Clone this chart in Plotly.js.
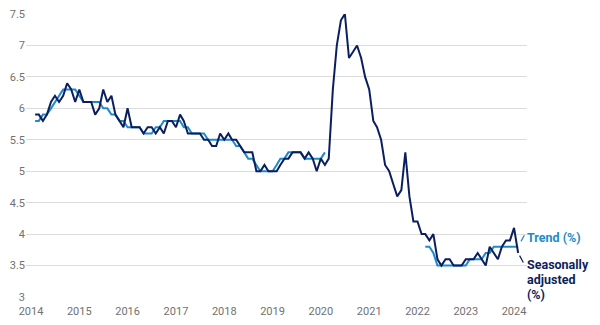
<!DOCTYPE html>
<html>
<head>
<meta charset="utf-8">
<script src="https://cdn.plot.ly/plotly-3.0.1.min.js"></script>
<style>html,body{margin:0;padding:0;background:#fff;}#chart{width:600px;height:325px;}</style>
</head>
<body>
<div id="chart"></div>
<script>
// First observation: February 2014, monthly
const startYear = 2014;
const startMonth = 2;

// Seasonally adjusted unemployment rate (%)
const seasonallyAdjusted = [
  5.9, 5.9, 5.8, 5.9, 6.1, 6.2, 6.1, 6.2, 6.4, 6.3, 6.1,            // Feb-Dec 2014
  6.3, 6.1, 6.1, 6.1, 5.9, 6.0, 6.3, 6.1, 6.2, 5.9, 5.8, 5.7,       // 2015
  6.0, 5.7, 5.7, 5.7, 5.6, 5.7, 5.7, 5.6, 5.7, 5.6, 5.8, 5.8,       // 2016
  5.7, 5.9, 5.8, 5.6, 5.6, 5.6, 5.6, 5.5, 5.5, 5.4, 5.4, 5.6,       // 2017
  5.5, 5.6, 5.5, 5.5, 5.4, 5.3, 5.3, 5.3, 5.0, 5.0, 5.1, 5.0,       // 2018
  5.0, 5.0, 5.1, 5.2, 5.2, 5.3, 5.3, 5.3, 5.2, 5.3, 5.2, 5.0,       // 2019
  5.2, 5.1, 5.2, 6.3, 7.0, 7.4, 7.5, 6.8, 6.9, 7.0, 6.8, 6.5,       // 2020
  6.3, 5.8, 5.7, 5.5, 5.1, 5.0, 4.8, 4.6, 4.7, 5.3, 4.6, 4.2,       // 2021
  4.2, 4.0, 4.0, 3.9, 4.0, 3.6, 3.5, 3.6, 3.6, 3.5, 3.5, 3.5,       // 2022
  3.6, 3.6, 3.6, 3.7, 3.6, 3.5, 3.8, 3.7, 3.6, 3.8, 3.9, 3.9,       // 2023
  4.1, 3.7                                                          // 2024
];

// Trend unemployment rate (%); trend estimates suspended Apr 2020 - Mar 2022
const trend = [
  5.8, 5.8, 5.9, 5.9, 6.0, 6.1, 6.2, 6.3, 6.3, 6.3, 6.3,            // Feb-Dec 2014
  6.2, 6.1, 6.1, 6.1, 6.1, 6.1, 6.0, 6.0, 5.9, 5.9, 5.8, 5.8,       // 2015
  5.7, 5.7, 5.7, 5.7, 5.6, 5.6, 5.6, 5.7, 5.7, 5.8, 5.8, 5.8,       // 2016
  5.8, 5.8, 5.7, 5.7, 5.6, 5.6, 5.6, 5.6, 5.5, 5.5, 5.5, 5.5,       // 2017
  5.5, 5.5, 5.5, 5.4, 5.4, 5.3, 5.2, 5.2, 5.1, 5.0, 5.0, 5.0,       // 2018
  5.0, 5.1, 5.2, 5.2, 5.3, 5.3, 5.3, 5.3, 5.2, 5.2, 5.2, 5.2,       // 2019
  5.2, 5.3, null, null, null, null, null, null, null, null, null, null, // 2020
  null, null, null, null, null, null, null, null, null, null, null, null, // 2021
  null, null, 3.8, 3.8, 3.7, 3.5, 3.5, 3.5, 3.5, 3.5, 3.5, 3.5,     // 2022
  3.5, 3.6, 3.6, 3.6, 3.6, 3.7, 3.7, 3.8, 3.8, 3.8, 3.8, 3.8,       // 2023
  3.8, 3.8                                                          // 2024
];

const yearTicks = [2014, 2015, 2016, 2017, 2018, 2019, 2020, 2021, 2022, 2023, 2024];
const yTicks = [3, 3.5, 4, 4.5, 5, 5.5, 6, 6.5, 7, 7.5];

const trendLabel = 'Trend (%)';
const saLabelLines = ['Seasonally', 'adjusted', '(%)'];

const colorSA = '#0b1f5e';
const colorTrend = '#1e8bc8';

function monthDate(i) {
  const t = startYear * 12 + (startMonth - 1) + i;
  const y = Math.floor(t / 12);
  const m = t % 12 + 1;
  return y + '-' + String(m).padStart(2, '0') + '-01';
}
const dates = seasonallyAdjusted.map((_, i) => monthDate(i));
const lastIdx = seasonallyAdjusted.length - 1;

const traces = [
  {
    x: dates, y: trend, type: 'scatter', mode: 'lines', connectgaps: false,
    line: {color: colorTrend, width: 2}, cliponaxis: false, hoverinfo: 'skip'
  },
  {
    x: dates, y: seasonallyAdjusted, type: 'scatter', mode: 'lines',
    line: {color: colorSA, width: 2}, cliponaxis: false, hoverinfo: 'skip'
  }
];

const tickFont = {family: 'Roboto, sans-serif', size: 11, color: '#717171'};
const labelFont = (c) => ({family: 'Roboto, sans-serif', size: 12.5, color: c});

const annotations = [
  {
    x: dates[lastIdx], y: trend[lastIdx], xref: 'x', yref: 'y',
    text: '', showarrow: true, arrowhead: 0, arrowwidth: 1.2, arrowcolor: colorTrend,
    ax: 7, ay: -13, standoff: 6
  },
  {
    x: dates[lastIdx], y: seasonallyAdjusted[lastIdx], xref: 'x', yref: 'y',
    text: '', showarrow: true, arrowhead: 0, arrowwidth: 1.2, arrowcolor: colorSA,
    ax: 6, ay: 11, standoff: 3
  },
  {
    x: 1, xref: 'paper', y: trend[lastIdx], yref: 'y',
    xanchor: 'left', yanchor: 'middle', xshift: -1, yshift: 9,
    text: '<b>' + trendLabel + '</b>', showarrow: false, align: 'left',
    borderpad: 0, font: labelFont(colorTrend)
  }
];
saLabelLines.forEach((line, k) => {
  annotations.push({
    x: 1, xref: 'paper', y: seasonallyAdjusted[lastIdx], yref: 'y',
    xanchor: 'left', yanchor: 'middle', xshift: -1, yshift: -12 - 15 * k,
    text: '<b>' + line + '</b>', showarrow: false, align: 'left',
    borderpad: 0, font: labelFont(colorSA)
  });
});

const layout = {
  width: 600, height: 325,
  margin: {l: 26, r: 73, t: 14, b: 28},
  paper_bgcolor: '#fff', plot_bgcolor: '#fff',
  showlegend: false,
  xaxis: {
    type: 'date',
    range: ['2013-11-24', '2024-04-08'],
    tickvals: yearTicks.map(y => y + '-01-01'),
    ticktext: yearTicks.map(String),
    showgrid: false, zeroline: false, showline: false, ticks: '',
    ticklabelstandoff: 6,
    tickfont: tickFont
  },
  yaxis: {
    range: [3, 7.5],
    tickvals: yTicks,
    ticktext: yTicks.map(String),
    showgrid: true, gridcolor: '#dcdcdc', gridwidth: 1,
    zeroline: false, showline: false, ticks: '',
    tickfont: tickFont
  },
  annotations: annotations
};

Plotly.newPlot('chart', traces, layout, {staticPlot: true, displayModeBar: false});
</script>
</body>
</html>
